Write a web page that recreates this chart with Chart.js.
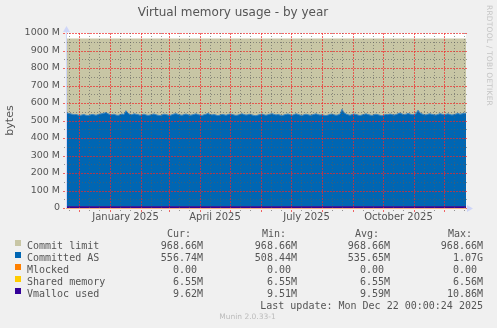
<!DOCTYPE html>
<html>
<head>
<meta charset="utf-8">
<script src="https://cdn.jsdelivr.net/npm/chart.js@4.4.0/dist/chart.umd.min.js"></script>
<style>
  html, body { margin: 0; padding: 0; background: #f0f0f0; }
  #wrap { position: relative; width: 497px; height: 328px; overflow: hidden; }
  #wrap canvas { position: absolute; left: 0; top: 0; }
  #gridLayer { pointer-events: none; }
  .mono { position: absolute; font-family: "DejaVu Sans Mono", monospace; font-size: 10px; line-height: 12px; color: #555; white-space: pre; }
  .sw { position: absolute; width: 6px; height: 6px; }
  #rrd { position: absolute; left: 485px; top: 5px; writing-mode: vertical-rl; font-family: "DejaVu Sans", sans-serif; font-size: 7.5px; color: #c4c4c4; letter-spacing: 0.2px; }
  #munin { position: absolute; left: 0; width: 495px; top: 312px; text-align: center; font-family: "DejaVu Sans", sans-serif; font-size: 7.5px; color: #bbb; }
</style>
</head>
<body>
<div id="wrap">
  <canvas id="memChart" width="497" height="328"></canvas>
  <canvas id="gridLayer" width="497" height="328"></canvas>
  <div id="rrd">RRDTOOL / TOBI OETIKER</div>
  <div id="legend"></div>
  <div id="munin">Munin 2.0.33-1</div>
</div>
<script>
// time axis: days counted from 2024-11-18, one year shown
const startDay = Date.UTC(2024, 10, 18)
const spanDays = 400
const stepDays = 2

// Committed AS, in M, one value every 2 days
const committedAS = [
  544, 541, 539, 536, 533, 535, 531, 529, 532, 534, 530, 528, 531, 535, 533, 530, 534, 537, 539, 541,
  546, 538, 535, 533, 536, 531, 529, 533, 537, 534, 556, 541, 535, 533, 538, 536, 534, 530, 533, 536,
  532, 529, 531, 535, 537, 533, 530, 528, 532, 536, 534, 531, 529, 533, 537, 539, 535, 532, 530, 534,
  537, 533, 530, 532, 535, 538, 534, 531, 529, 533, 536, 540, 535, 532, 534, 531, 528, 531, 535, 533,
  530, 534, 537, 535, 532, 529, 531, 535, 538, 534, 531, 533, 536, 532, 529, 527, 531, 534, 537, 533,
  530, 533, 536, 539, 535, 532, 534, 531, 528, 532, 535, 537, 533, 530, 534, 538, 535, 531, 529, 533,
  536, 533, 530, 532, 535, 538, 534, 531, 533, 530, 528, 531, 535, 537, 533, 530, 532, 536, 564, 545,
  537, 533, 530, 534, 537, 535, 531, 528, 532, 535, 538, 534, 531, 529, 533, 536, 533, 530, 527, 531,
  535, 533, 537, 534, 531, 534, 538, 543, 537, 534, 536, 540, 537, 533, 535, 538, 559, 543, 537, 534,
  532, 536, 538, 535, 533, 531, 535, 539, 536, 533, 535, 538, 534, 531, 534, 537, 540, 536, 538, 541,
  542
]
const commitLimit = 968.66
const mlocked = 0
const sharedMemory = 6.55
const vmallocUsed = 9.62

const yTicks = [0, 100, 200, 300, 400, 500, 600, 700, 800, 900, 1000]
const xLabels = ['January 2025', 'April 2025', 'July 2025', 'October 2025']
const xLabelMonths = [[2025, 0], [2025, 3], [2025, 6], [2025, 9]]
const minorDays = [11, 21]

const seriesNames = ['Commit limit', 'Committed AS', 'Mlocked', 'Shared memory', 'Vmalloc used']
const seriesColors = ['#c8c6a5', '#0066b3', '#ff8000', '#ffcc00', '#330099']
const curVals = ['968.66M', '556.74M', '0.00 ', '6.55M', '9.62M']
const minVals = ['968.66M', '508.44M', '0.00 ', '6.55M', '9.51M']
const avgVals = ['968.66M', '535.65M', '0.00 ', '6.55M', '9.59M']
const maxVals = ['968.66M', '1.07G', '0.00 ', '6.56M', '10.86M']
const lastUpdate = 'Last update: Mon Dec 22 00:00:24 2025'

const dayOf = (y, m, d) => (Date.UTC(y, m, d) - startDay) / 86400000

// month boundaries (red) and the minor lines inside each month (gray)
const xTicks = []
for (let i = 0; i < 14; i++) {
  const y = 2024 + Math.floor((10 + i) / 12), m = (10 + i) % 12
  const first = dayOf(y, m, 1)
  if (first > 0 && first < spanDays) xTicks.push({ value: first, kind: 'major' })
  minorDays.forEach(d => {
    const v = dayOf(y, m, d)
    if (v > 0 && v < spanDays) xTicks.push({ value: v, kind: 'minor' })
  })
}
xLabelMonths.forEach(([y, m], i) => {
  const mid = (dayOf(y, m, 1) + dayOf(y, m + 1, 1)) / 2
  xTicks.push({ value: mid, kind: 'label', text: xLabels[i] })
})
xTicks.sort((a, b) => a.value - b.value)

const flat = v => [{ x: 0, y: v }, { x: spanDays, y: v }]

const RED = 'rgba(240,40,40,0.7)'
const GRAY = 'rgba(90,90,90,0.6)'

// rrdtool draws its grid as dotted 1px lines on top of the areas
const dotted = (ctx, x0, y0, x1, y1, color, on, off) => {
  ctx.fillStyle = color
  if (y0 === y1) {
    for (let px = x0; px <= x1; px += on + off) ctx.fillRect(px, y0, Math.min(on, x1 - px + 1), 1)
  } else {
    for (let py = y0; py <= y1; py += on + off) ctx.fillRect(x0, py, 1, Math.min(on, y1 - py + 1))
  }
}

// grid, axes and arrows go on a transparent layer above the chart canvas
const drawGridLayer = chart => {
  const ctx = document.getElementById('gridLayer').getContext('2d')
  const a = chart.chartArea
  const xs = chart.scales.x, ys = chart.scales.y
  const L = Math.round(a.left), R = Math.round(a.right), T = Math.round(a.top), B = Math.round(a.bottom)
  ctx.clearRect(0, 0, 497, 328)
  ys.ticks.forEach(t => {
    const py = Math.round(ys.getPixelForValue(t.value))
    if (t.value % 100 === 0) dotted(ctx, L - 3, py, R, py, RED, 2, 1)
    else dotted(ctx, L - 2, py, R, py, GRAY, 1, 2)
  })
  xs.ticks.forEach(t => {
    if (t.kind === 'label') return
    const px = Math.round(xs.getPixelForValue(t.value))
    if (t.kind === 'major') dotted(ctx, px, T, px, B + 3, RED, 2, 1)
    else dotted(ctx, px, T, px, B + 2, GRAY, 1, 2)
  })
  ctx.fillStyle = '#cfd6f8'
  ctx.fillRect(L, T - 3, 1, B - T + 3)
  ctx.fillStyle = '#f2ae82'
  ctx.fillRect(L, B, R - L, 1)
  ctx.fillStyle = '#cfd6f8'
  ctx.beginPath()
  ctx.moveTo(L - 3, T - 1)
  ctx.lineTo(L + 0.5, T - 7)
  ctx.lineTo(L + 4, T - 1)
  ctx.fill()
  ctx.beginPath()
  ctx.moveTo(R + 1, B - 3)
  ctx.lineTo(R + 7, B + 0.5)
  ctx.lineTo(R + 1, B + 4)
  ctx.fill()
}

const rrdLook = {
  id: 'rrdLook',
  beforeDraw(chart) {
    const { ctx, chartArea: a } = chart
    ctx.save()
    ctx.fillStyle = '#ffffff'
    ctx.fillRect(a.left, a.top, a.right - a.left, a.bottom - a.top)
    ctx.restore()
  },
  afterDraw(chart) {
    drawGridLayer(chart)
  }
}

const area = (label, data, color, order, border) => ({
  label, data, order,
  backgroundColor: color,
  borderColor: border || color,
  borderWidth: border ? 1 : 0,
  pointRadius: 0,
  fill: 'origin',
  tension: 0
})

const chart = new Chart(document.getElementById('memChart'), {
  type: 'line',
  data: {
    datasets: [
      area(seriesNames[0], flat(commitLimit), seriesColors[0], 5),
      area(seriesNames[1], committedAS.map((v, i) => ({ x: i * stepDays, y: v })), seriesColors[1], 4, '#3d86c2'),
      area(seriesNames[2], flat(mlocked), seriesColors[2], 3),
      area(seriesNames[3], flat(sharedMemory), seriesColors[3], 2),
      area(seriesNames[4], flat(vmallocUsed), seriesColors[4], 1)
    ]
  },
  options: {
    responsive: false,
    animation: false,
    layout: { padding: { left: 0, right: 31, top: 0, bottom: 100 } },
    plugins: {
      legend: { display: false },
      tooltip: { enabled: false },
      title: {
        display: true,
        text: 'Virtual memory usage - by year',
        color: '#555',
        font: { family: 'DejaVu Sans', size: 12, weight: 'normal' },
        padding: { top: 6, bottom: 12.6 }
      }
    },
    scales: {
      x: {
        type: 'linear',
        min: 0,
        max: spanDays,
        afterFit: s => { s.height = 20 },
        afterBuildTicks: s => { s.ticks = xTicks.map(t => ({ ...t })) },
        ticks: {
          autoSkip: false,
          maxRotation: 0,
          padding: 3,
          color: '#555',
          font: { family: 'DejaVu Sans', size: 10 },
          callback: (v, i, ticks) => ticks[i].kind === 'label' ? ticks[i].text : ''
        },
        grid: { display: false, drawTicks: false },
        border: { display: false }
      },
      y: {
        min: 0,
        max: 1000,
        afterFit: s => { s.width = 66 },
        afterBuildTicks: s => {
          const t = []
          for (let v = 0; v <= 1000; v += 50) t.push({ value: v })
          s.ticks = t
        },
        ticks: {
          autoSkip: false,
          padding: 6,
          color: '#555',
          font: { family: 'DejaVu Sans', size: 9.5 },
          callback: v => yTicks.includes(v) ? (v === 0 ? '0' : v + ' M') : ''
        },
        grid: { display: false, drawTicks: false },
        border: { display: false },
        title: {
          display: true,
          text: 'bytes',
          color: '#555',
          font: { family: 'DejaVu Sans', size: 11 },
          padding: { top: 4, bottom: 0 }
        }
      }
    }
  },
  plugins: [rrdLook]
})
drawGridLayer(chart)

// legend table under the graph, rrdtool style
const legend = document.getElementById('legend')
const put = (text, css) => {
  const d = document.createElement('div')
  d.className = 'mono'
  d.textContent = text
  Object.assign(d.style, css)
  legend.appendChild(d)
}
const rowTop = i => 239.5 + i * 12
put('Cur:', { left: '167px', top: '227.5px' })
put('Min:', { left: '262px', top: '227.5px' })
put('Avg:', { left: '355px', top: '227.5px' })
put('Max:', { left: '448px', top: '227.5px' })
seriesNames.forEach((name, i) => {
  const sw = document.createElement('div')
  sw.className = 'sw'
  Object.assign(sw.style, { left: '15px', top: (rowTop(i) + 0.5) + 'px', background: seriesColors[i] })
  legend.appendChild(sw)
  put(name, { left: '27px', top: rowTop(i) + 'px' })
  put(curVals[i], { right: (497 - 203) + 'px', top: rowTop(i) + 'px' })
  put(minVals[i], { right: (497 - 297) + 'px', top: rowTop(i) + 'px' })
  put(avgVals[i], { right: (497 - 390) + 'px', top: rowTop(i) + 'px' })
  put(maxVals[i], { right: (497 - 483) + 'px', top: rowTop(i) + 'px' })
})
put(lastUpdate, { right: (497 - 483) + 'px', top: '299.5px' })
</script>
</body>
</html>
